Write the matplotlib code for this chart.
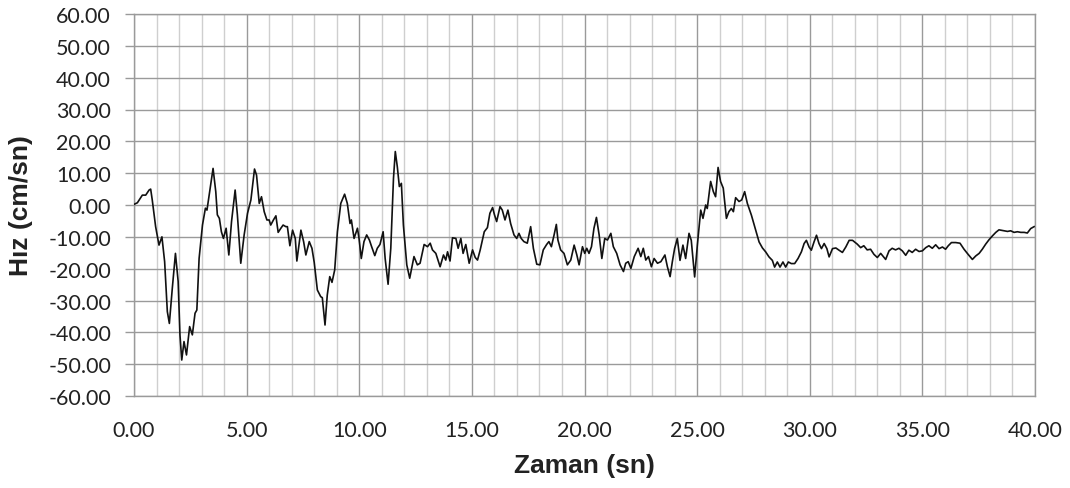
import matplotlib
matplotlib.use("Agg")
import matplotlib.pyplot as plt
from matplotlib.ticker import MultipleLocator, FormatStrFormatter

# Digitized record: time (s) and velocity (cm/s)
time_s = [
    0.00, 0.15, 0.37, 0.52, 0.67, 0.74, 0.81, 0.96, 1.11, 1.24, 1.36, 1.48, 1.57, 1.70, 1.84, 1.96,
    2.04, 2.12, 2.22, 2.33, 2.47, 2.59, 2.71, 2.79, 2.89, 3.04, 3.17, 3.24, 3.38, 3.51, 3.63, 3.70,
    3.79, 3.88, 3.97, 4.09, 4.21, 4.33, 4.49, 4.59, 4.74, 4.89, 5.04, 5.19, 5.35, 5.44, 5.56, 5.66,
    5.78, 5.90, 6.00, 6.07, 6.19, 6.30, 6.40, 6.52, 6.62, 6.74, 6.81, 6.92, 7.04, 7.16, 7.23, 7.41,
    7.53, 7.63, 7.78, 7.90, 8.00, 8.14, 8.29, 8.36, 8.48, 8.58, 8.69, 8.79, 8.91, 9.03, 9.18, 9.35,
    9.47, 9.59, 9.65, 9.77, 9.92, 9.99, 10.09, 10.21, 10.33, 10.45, 10.55, 10.69, 10.80, 10.92, 11.06,
    11.15, 11.28, 11.40, 11.52, 11.60, 11.69, 11.78, 11.87, 11.96, 12.11, 12.24, 12.43, 12.58, 12.70,
    12.88, 13.03, 13.15, 13.25, 13.40, 13.59, 13.74, 13.84, 13.92, 14.03, 14.14, 14.29, 14.39, 14.51,
    14.61, 14.73, 14.88, 15.03, 15.15, 15.25, 15.37, 15.55, 15.69, 15.80, 15.92, 16.00, 16.10, 16.25,
    16.35, 16.47, 16.60, 16.72, 16.87, 16.99, 17.09, 17.19, 17.31, 17.46, 17.61, 17.73, 17.88, 18.02,
    18.17, 18.32, 18.42, 18.53, 18.65, 18.75, 18.82, 18.94, 19.09, 19.24, 19.39, 19.54, 19.66, 19.76,
    19.91, 20.01, 20.10, 20.20, 20.31, 20.42, 20.53, 20.65, 20.77, 20.90, 21.02, 21.17, 21.28, 21.43,
    21.58, 21.73, 21.83, 21.94, 22.06, 22.21, 22.38, 22.50, 22.61, 22.72, 22.84, 22.97, 23.09, 23.24,
    23.39, 23.57, 23.68, 23.80, 23.90, 24.00, 24.12, 24.24, 24.37, 24.49, 24.64, 24.74, 24.89, 25.01,
    25.16, 25.26, 25.38, 25.45, 25.60, 25.72, 25.82, 25.93, 26.04, 26.16, 26.30, 26.41, 26.52, 26.61,
    26.71, 26.86, 26.98, 27.11, 27.23, 27.41, 27.60, 27.75, 27.90, 28.04, 28.19, 28.34, 28.44, 28.56,
    28.68, 28.81, 28.93, 29.05, 29.18, 29.33, 29.48, 29.63, 29.75, 29.85, 29.97, 30.07, 30.19, 30.30,
    30.41, 30.52, 30.64, 30.76, 30.86, 31.01, 31.16, 31.30, 31.45, 31.60, 31.75, 31.90, 32.11, 32.26,
    32.40, 32.55, 32.70, 32.85, 33.00, 33.15, 33.37, 33.52, 33.66, 33.81, 33.96, 34.11, 34.26, 34.40,
    34.55, 34.70, 34.85, 35.00, 35.15, 35.29, 35.44, 35.59, 35.74, 35.89, 36.03, 36.15, 36.29, 36.48,
    36.67, 36.85, 37.03, 37.22, 37.37, 37.52, 37.66, 37.81, 37.96, 38.11, 38.26, 38.40, 38.63, 38.78,
    38.92, 39.07, 39.22, 39.37, 39.52, 39.66, 39.81, 39.96,
]
velocity_cms = [
    0.2, 0.7, 3.1, 3.1, 4.7, 5.0, 1.6, -6.8, -12.6, -10.0, -17.8, -33.5, -37.2, -26.2, -15.2, -24.0,
    -40.8, -48.7, -42.9, -47.1, -38.2, -40.8, -34.0, -33.0, -16.8, -6.3, -1.0, -1.6, 5.2, 11.5, 4.2, -3.1,
    -4.2, -8.4, -10.5, -7.3, -15.7, -5.2, 4.7, -3.1, -18.3, -9.4, -2.6, 1.6, 11.3, 9.4, 0.5, 2.6,
    -2.1, -4.7, -4.7, -6.3, -4.7, -3.4, -8.6, -7.3, -6.3, -6.8, -6.8, -12.8, -7.9, -10.5, -17.6, -7.9,
    -11.5, -15.7, -11.5, -13.6, -18.0, -26.7, -28.8, -29.1, -37.7, -28.3, -22.5, -24.3, -20.4, -8.4, 0.5, 3.4,
    0.5, -5.8, -4.7, -10.5, -7.3, -10.5, -16.8, -11.5, -9.4, -11.0, -13.1, -15.9, -13.6, -12.4, -8.4,
    -16.8, -24.9, -13.6, 8.4, 16.8, 12.0, 5.8, 6.8, -6.3, -18.8, -23.0, -16.2, -18.8, -18.3,
    -12.4, -13.1, -12.0, -14.1, -15.2, -19.4, -15.7, -17.3, -14.7, -17.6, -10.3, -10.5, -13.6, -10.5,
    -15.2, -12.4, -18.3, -14.1, -16.5, -17.3, -14.1, -8.4, -7.1, -2.6, -0.8, -3.0, -5.2, -0.5,
    -1.6, -4.7, -1.6, -5.8, -9.4, -10.5, -8.9, -10.5, -11.5, -12.0, -6.8, -13.6, -18.6, -18.8,
    -14.1, -12.4, -11.5, -13.1, -9.4, -6.1, -11.0, -14.1, -15.2, -18.8, -17.3, -12.6, -15.7, -18.8,
    -13.1, -15.2, -13.6, -15.2, -13.1, -7.3, -3.9, -9.4, -16.8, -10.5, -11.0, -8.9, -13.1, -15.2,
    -18.8, -20.9, -18.3, -17.8, -19.9, -16.2, -13.6, -16.2, -13.6, -17.3, -16.2, -19.4, -16.8, -18.3,
    -17.8, -15.7, -19.4, -22.5, -17.8, -13.7, -10.5, -17.4, -12.6, -16.8, -8.9, -11.1, -22.6, -12.6,
    -1.6, -4.2, 0.0, -1.1, 7.4, 4.2, 2.6, 11.8, 7.4, 5.3, -4.2, -2.1, -1.1, -2.1,
    2.3, 1.1, 1.6, 4.2, 0.5, -3.2, -7.9, -11.6, -13.5, -14.7, -16.3, -17.4, -19.5, -17.9,
    -19.5, -17.9, -19.5, -17.9, -18.4, -18.4, -16.8, -14.7, -12.1, -11.1, -13.2, -14.2, -11.6, -9.5,
    -12.1, -13.7, -12.1, -13.7, -16.3, -13.7, -13.5, -14.2, -14.9, -13.2, -11.1, -11.1, -12.3, -13.4,
    -12.8, -14.1, -13.9, -15.5, -16.5, -15.2, -17.1, -14.4, -13.6, -14.1, -13.6, -14.4, -15.8, -14.2,
    -14.9, -13.9, -14.6, -14.4, -13.4, -12.8, -13.6, -12.5, -13.7, -13.2, -13.9, -12.8, -11.8, -11.8,
    -12.0, -13.9, -15.5, -17.1, -16.0, -15.2, -13.9, -12.3, -10.9, -9.7, -8.6, -7.8, -8.1, -8.3,
    -8.1, -8.6, -8.4, -8.6, -8.6, -8.8, -7.4, -6.8,
]

x_label = "Zaman (sn)"
y_label = "Hız (cm/sn)"

plt.rcParams["font.family"] = ["Lato", "DejaVu Sans"]

fig = plt.figure(figsize=(10.70, 4.89), dpi=100)
ax = fig.add_axes([134 / 1070, 92 / 489, 901 / 1070, 382 / 489])

ax.plot(time_s, velocity_cms, color="#111111", linewidth=1.2, zorder=3)

ax.set_xlim(0, 40)
ax.set_ylim(-60, 60)
ax.xaxis.set_major_locator(MultipleLocator(5))
ax.xaxis.set_minor_locator(MultipleLocator(1))
ax.yaxis.set_major_locator(MultipleLocator(10))
ax.xaxis.set_major_formatter(FormatStrFormatter("%.2f"))
ax.yaxis.set_major_formatter(FormatStrFormatter("%.2f"))

ax.grid(which="major", axis="both", color="#9a9a9a", linewidth=1.0)
ax.grid(which="minor", axis="x", color="#cfcfcf", linewidth=1.0)
ax.set_axisbelow(True)

for s in ax.spines.values():
    s.set_color("#9a9a9a")
    s.set_linewidth(1.0)

ax.tick_params(axis="y", which="major", direction="out", length=6.5, width=1.0,
               color="#9a9a9a", pad=10, labelsize=15.5, labelcolor="#222222")
ax.tick_params(axis="x", which="both", length=0, pad=17, labelsize=15.5, labelcolor="#222222")

label_font = ["Liberation Sans", "DejaVu Sans"]
ax.set_xlabel(x_label, fontsize=19, fontweight="bold", family=label_font,
              color="#222222", va="center")
ax.set_ylabel(y_label, fontsize=19, fontweight="bold", family=label_font,
              color="#222222", va="center")
ax.xaxis.set_label_coords(0.5, (397 - 466) / 382)
ax.yaxis.set_label_coords((21 - 134) / 901, 0.5)

fig.savefig("out.png", dpi=100)
